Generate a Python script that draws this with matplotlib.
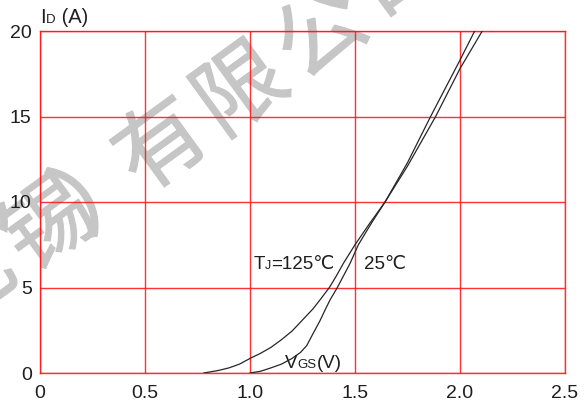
import numpy as np
import matplotlib
matplotlib.use("Agg")
import matplotlib.pyplot as plt
import matplotlib.patheffects as pe

# ---- data ----
vgs_125 = [0.78, 0.85, 0.90, 0.95, 1.0, 1.05, 1.10, 1.15, 1.20, 1.25, 1.30, 1.333, 1.378,
           1.41, 1.444, 1.50, 1.57, 1.643, 1.75, 1.884, 2.0, 2.106]
id_125 = [0.0, 0.15, 0.3, 0.52, 0.85, 1.15, 1.5, 1.95, 2.45, 3.1, 3.75, 4.27, 5.0,
          5.65, 6.4, 7.5, 8.75, 10.0, 12.1, 15.0, 17.8, 20.0]

vgs_25 = [1.0, 1.05, 1.10, 1.15, 1.20, 1.24, 1.27, 1.30, 1.333, 1.36, 1.381, 1.416, 1.476,
          1.516, 1.58, 1.643, 1.75, 1.86, 2.0, 2.07]
id_25 = [0.0, 0.1, 0.3, 0.52, 0.85, 1.2, 1.6, 2.3, 3.05, 3.75, 4.27, 5.0, 6.4,
         7.5, 8.8, 10.0, 12.3, 15.0, 18.3, 20.0]

x_ticks = [0, 0.5, 1.0, 1.5, 2.0, 2.5]
x_ticklabels = ["0", "0.5", "1.0", "1.5", "2.0", "2.5"]
y_ticks = [0, 5, 10, 15, 20]
y_ticklabels = ["0", "5", "10", "15", "20"]

watermark_chars = ["无", "锡", "）", "有", "限", "公", "司"]
# distance of each character centre along the watermark line, relative to "有"
watermark_pos = [-235, -138, -70, 0, 97, 195, 292]

# ---- figure ----
W, H = 586, 403
fig = plt.figure(figsize=(W / 100, H / 100), dpi=100)
fig.patch.set_facecolor("white")
L, R, T, B = 40, 565, 31, 373
ax = fig.add_axes([L / W, 1 - B / H, (R - L) / W, (B - T) / H])
ax.patch.set_alpha(0.0)

FONT = ["Liberation Sans", "DejaVu Sans"]
CJK = ["Noto Sans CJK SC", "DejaVu Sans"]
TXT = "#1e1e1e"
RED = "#ff1a1a"

ax.set_xlim(0, 2.5)
ax.set_ylim(0, 20)
ax.set_xticks(x_ticks)
ax.set_xticklabels(x_ticklabels, family=FONT, fontsize=14, color=TXT)
ax.set_yticks(y_ticks)
ax.set_yticklabels(y_ticklabels, family=FONT, fontsize=14, color=TXT)
ax.tick_params(length=0, pad=6)
ax.tick_params(axis="x", pad=9)
ax.grid(True, color=RED, lw=1.0, alpha=0.9)
ax.set_axisbelow(True)
for s in ax.spines.values():
    s.set_color(RED)
    s.set_linewidth(1.0)
    s.set_alpha(0.9)

ax.plot(vgs_125, id_125, color="#262626", lw=0.9, zorder=3)
ax.plot(vgs_25, id_25, color="#262626", lw=0.9, zorder=3)


def mixed(parts, x, y, coords):
    """parts: list of (text, size); drawn on a common baseline."""
    prev = ax.text(x, y, parts[0][0], transform=coords, fontsize=parts[0][1],
                   family=FONT, color=TXT, va="baseline", ha="left", clip_on=False, zorder=5)
    for txt, sz in parts[1:]:
        prev = ax.annotate(txt, xy=(1, y), xycoords=(prev, coords), fontsize=sz,
                           family=FONT, color=TXT, va="baseline", ha="left",
                           annotation_clip=False, zorder=5)
    return prev


# axis labels / annotations
mixed([("I", 14.5), ("D", 9.5), (" (A)", 14.5)], 0.001, (B - 22.7) / (B - T), ax.transAxes)
mixed([("T", 13.5), ("J", 9), ("=125℃", 13.5)], 1.016, 6.06, ax.transData)
mixed([("25℃", 13.5)], 1.544, 6.06, ax.transData)
mixed([("V", 13.5), ("GS", 9.5), ("(V)", 13.5)], 1.167, 0.27, ax.transData)

# watermark (drawn beneath the transparent axes so the grid shows over it)
ang = 35.0
cx, cy = 163.0, 148.0  # pixel centre of "有" (top-left origin)
ca, sa = np.cos(np.radians(ang)), np.sin(np.radians(ang))
WM = "#c6c6c6"
for ch, d in zip(watermark_chars, watermark_pos):
    px = cx + d * ca
    py = cy - d * sa
    fig.text(px / W, 1 - py / H, ch, family=CJK, fontsize=64, color=WM,
             rotation=ang + 1, rotation_mode="anchor", ha="center", va="center",
             zorder=-1, fontweight="normal",
             path_effects=[pe.withStroke(linewidth=0.9, foreground=WM)])

fig.savefig("out.png", dpi=100, facecolor="white")
